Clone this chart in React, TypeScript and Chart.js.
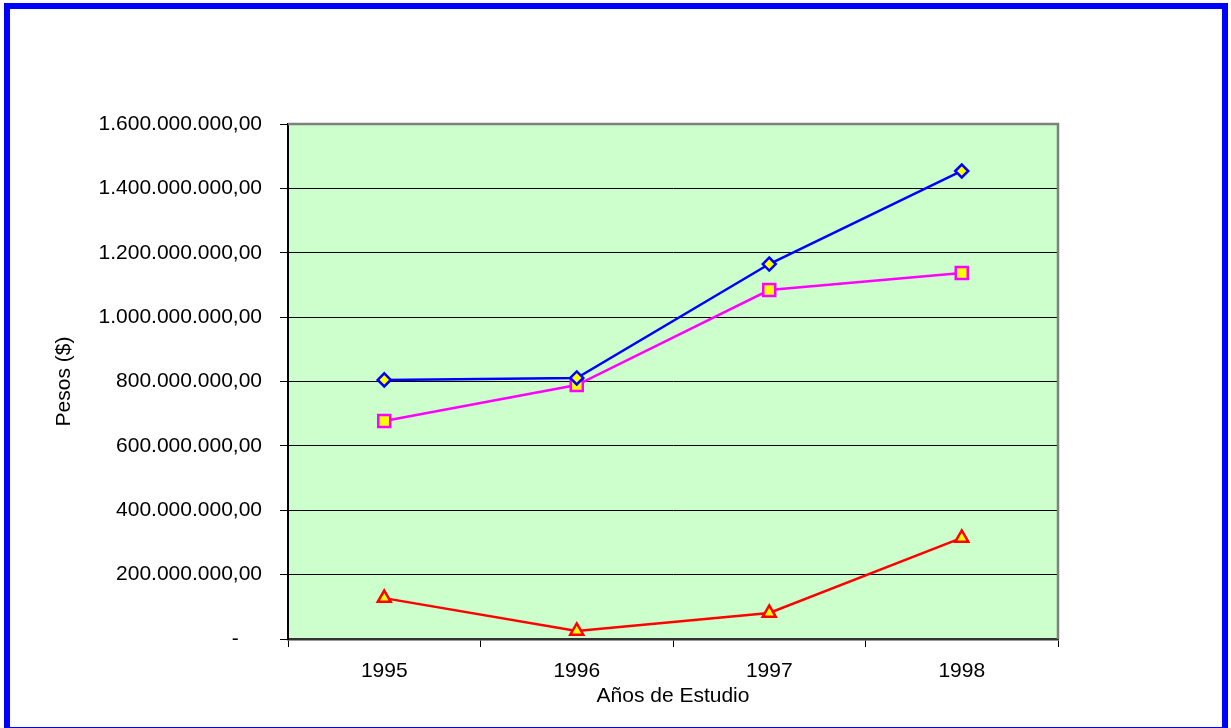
import React, { useEffect, useRef } from "react";
import { Chart, registerables } from "chart.js";

Chart.register(...registerables);

const categories = ["1995", "1996", "1997", "1998"];
const serieAzul = [805000000, 811000000, 1165000000, 1454000000];
const serieRosa = [677000000, 789000000, 1084000000, 1137000000];
const serieRoja = [127000000, 25000000, 81000000, 314000000];
const yTicks = [0, 200000000, 400000000, 600000000, 800000000, 1000000000, 1200000000, 1400000000, 1600000000];

function formatPesos(v: number): string {
  if (v === 0) return "-    ";
  const s = Math.round(v).toString();
  const parts: string[] = [];
  for (let i = s.length; i > 0; i -= 3) {
    parts.unshift(s.substring(Math.max(0, i - 3), i));
  }
  return parts.join(".") + ",00";
}

const plotBg = {
  id: "plotBg",
  beforeDraw(chart: any) {
    const { ctx, chartArea } = chart;
    ctx.save();
    ctx.fillStyle = "#CCFFCC";
    ctx.fillRect(chartArea.left, chartArea.top, chartArea.right - chartArea.left, chartArea.bottom - chartArea.top);
    ctx.restore();
  },
  afterDatasetsDraw(chart: any) {
    const { ctx, chartArea } = chart;
    ctx.save();
    ctx.strokeStyle = "#808080";
    ctx.lineWidth = 2.5;
    ctx.beginPath();
    ctx.moveTo(chartArea.left, chartArea.top);
    ctx.lineTo(chartArea.right, chartArea.top);
    ctx.lineTo(chartArea.right, chartArea.bottom);
    ctx.stroke();
    ctx.restore();
  },
};

export default function App() {
  const ref = useRef<HTMLCanvasElement>(null);
  useEffect(() => {
    if (!ref.current) return;
    const font = { family: "'Liberation Sans', Arial, sans-serif", size: 21 };
    const chart = new Chart(ref.current, {
      type: "line",
      data: {
        labels: categories,
        datasets: [
          {
            data: serieAzul,
            borderColor: "#0000FF",
            borderWidth: 2.5,
            pointStyle: "rectRot",
            pointRadius: 6.5,
            pointBorderWidth: 2.5,
            pointBackgroundColor: "#FFFF00",
            pointBorderColor: "#0000FF",
            tension: 0,
          },
          {
            data: serieRosa,
            borderColor: "#FF00FF",
            borderWidth: 2.5,
            pointStyle: "rect",
            pointRadius: 8.5,
            pointBorderWidth: 2.5,
            pointBackgroundColor: "#FFFF00",
            pointBorderColor: "#FF00FF",
            tension: 0,
          },
          {
            data: serieRoja,
            borderColor: "#FF0000",
            borderWidth: 2.5,
            pointStyle: "triangle",
            pointRadius: 7.5,
            pointBorderWidth: 2.5,
            pointBackgroundColor: "#FFFF00",
            pointBorderColor: "#FF0000",
            tension: 0,
          },
        ],
      },
      options: {
        animation: false,
        responsive: false,
        devicePixelRatio: 1,
        layout: { padding: { left: 0, top: 124, right: 173, bottom: 0 } },
        plugins: { legend: { display: false }, tooltip: { enabled: false } },
        scales: {
          x: {
            type: "category",
            offset: true,
            grid: {
              offset: true,
              drawOnChartArea: false,
              drawTicks: true,
              tickLength: 8,
              color: "#000000",
              lineWidth: 1,
            },
            border: { display: true, color: "#333333", width: 2.5 },
            ticks: { color: "#000", font, padding: 12, maxRotation: 0 },
            title: {
              display: true,
              text: "Años de Estudio",
              color: "#000",
              font,
              padding: { top: 0, bottom: 19 },
            },
            afterFit(scale: any) {
              scale.height = 89;
            },
          },
          y: {
            min: 0,
            max: 1600000000,
            afterBuildTicks(scale: any) {
              scale.ticks = yTicks.map((v) => ({ value: v }));
            },
            grid: {
              color: "#000000",
              lineWidth: 1,
              drawTicks: true,
              tickLength: 8,
            },
            border: { display: true, color: "#000000", width: 2 },
            ticks: {
              color: "#000",
              font,
              padding: 18,
              callback: (v: any) => formatPesos(Number(v)),
            },
            title: {
              display: true,
              text: "Pesos ($)",
              color: "#000",
              font,
              padding: { top: 52, bottom: 0 },
            },
            afterFit(scale: any) {
              scale.width = 288;
            },
          },
        },
      },
      plugins: [plotBg],
    } as any);
    return () => chart.destroy();
  }, []);

  return (
    <div style={{ position: "fixed", left: 0, top: 0, width: 1231, height: 728, background: "#fff", overflow: "hidden" }}>
      <canvas ref={ref} width={1231} height={728} style={{ position: "absolute", left: 0, top: 0, width: 1231, height: 728 }} />
      <div
        style={{
          position: "absolute",
          left: 4,
          top: 3,
          width: 1224,
          height: 730,
          boxSizing: "border-box",
          border: "6px solid #0000FF",
          pointerEvents: "none",
        }}
      />
    </div>
  );
}
